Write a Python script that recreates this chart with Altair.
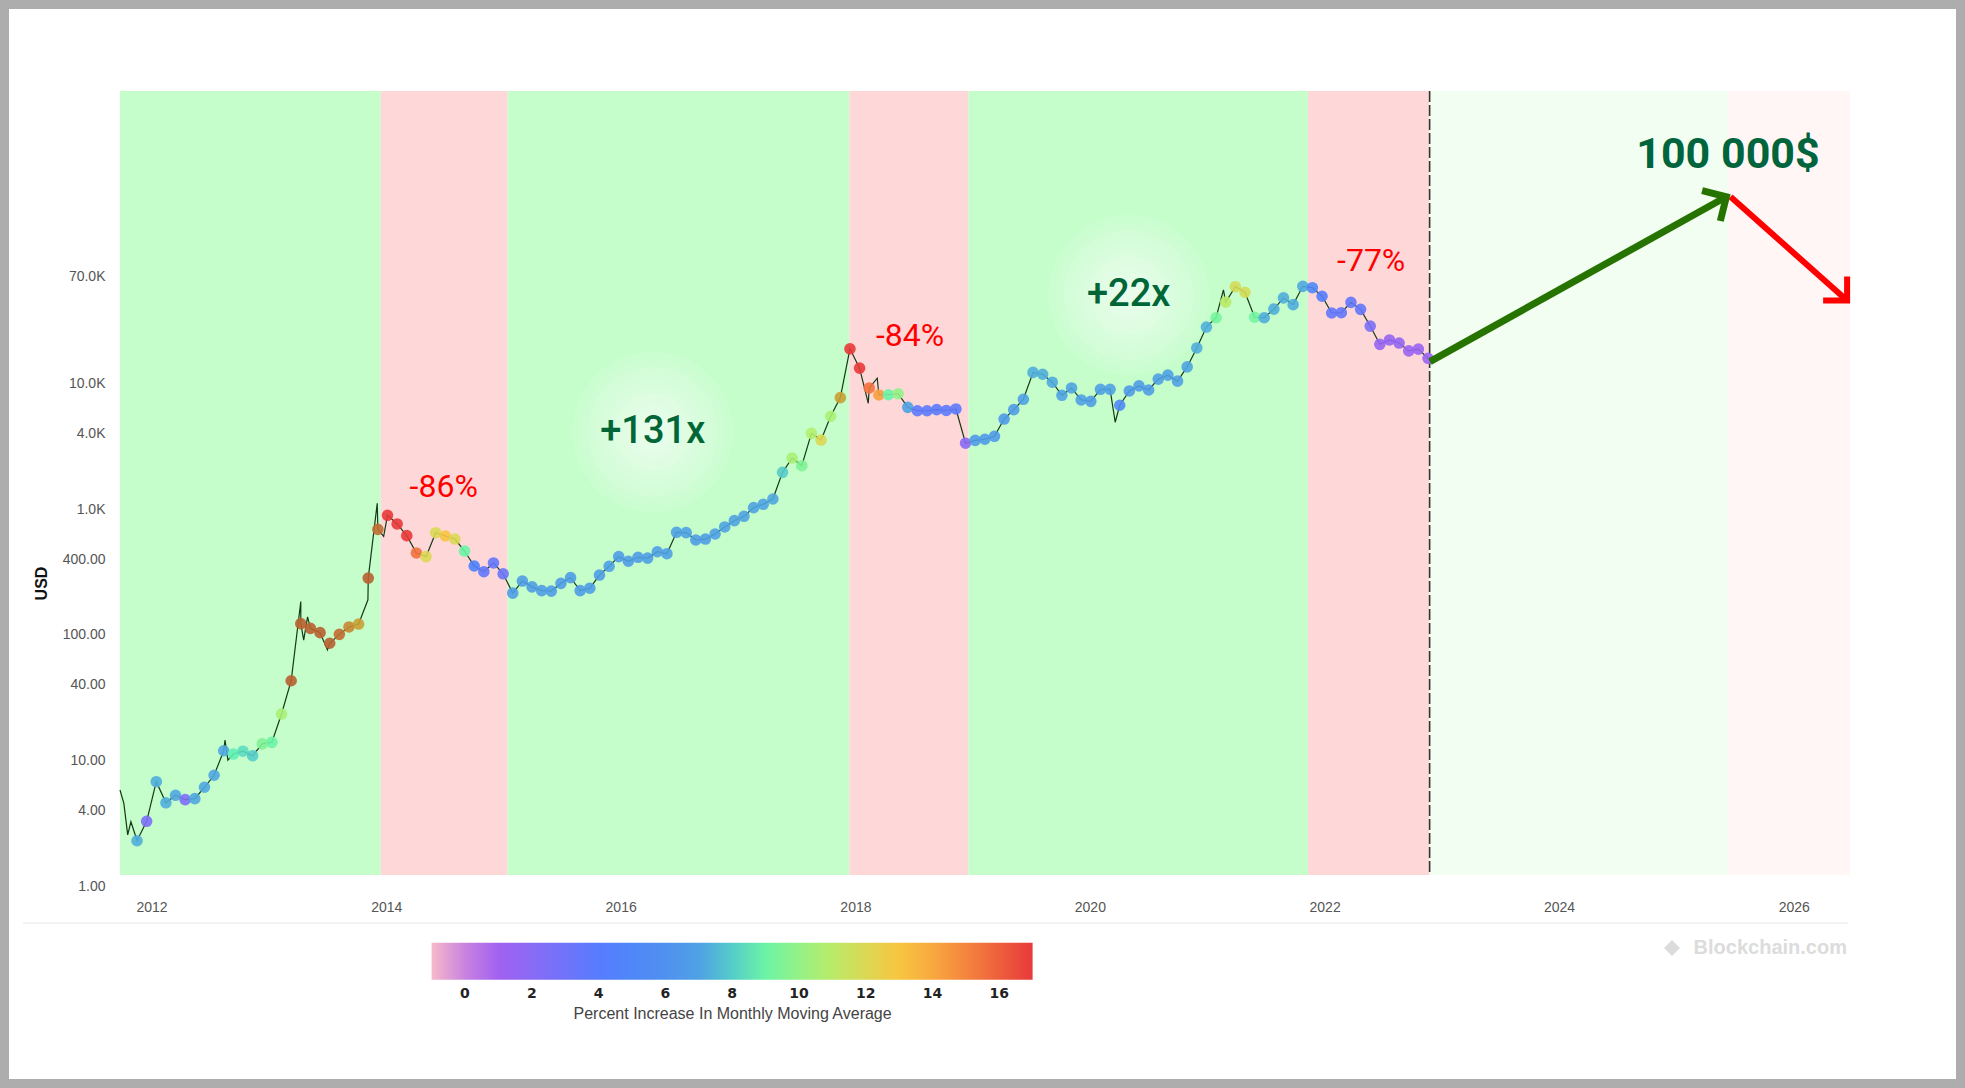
import altair as alt
import pandas as pd

# ---------------- data ----------------
first_marker_date = "2011-11-17"
marker_step_days = 30

price_usd = [
    2.31, 3.30, 6.81, 4.63, 5.31, 4.90, 4.99, 6.15, 7.66, 12.0,
    11.3, 11.9, 10.96, 13.6, 14.0, 23.5, 43.2, 122.8, 112.7, 104.2,
    85.8, 101, 115.6, 122, 283, 690, 893, 762, 615, 448,
    419, 649, 611, 578, 464, 353, 318, 373, 306, 215,
    268, 241, 225, 223, 257, 285, 225, 235, 299, 351,
    419, 385, 414, 408, 458, 442, 654, 650, 568, 578,
    634, 721, 809, 877, 1027, 1092, 1203, 1960, 2547, 2213,
    4000, 3540, 5470, 7690, 18800, 13200, 9180, 8080, 8110, 8260,
    6440, 6050, 6050, 6170, 6080, 6250, 3340, 3520, 3590, 3790,
    5200, 6170, 7460, 12200, 11800, 10200, 8030, 9180, 7370, 7190,
    8960, 8960, 6690, 8690, 9530, 8850, 10800, 11600, 10400, 13500,
    19100, 28000, 33200, 44200, 58600, 52900, 33500, 33200, 38900, 47700,
    42200, 59000, 57500, 49200, 36200, 36400, 44000, 38700, 28500, 20400,
    22100, 20900, 18100, 18700, 15800,
]

pct_increase = [
    7.4, 2.5, 7.4, 7.4, 7.2, 2.5, 7.2, 7.2, 7.2, 7.2,
    8.6, 8.3, 8.0, 9.5, 9.0, 10.5, 22, 22, 22, 22,
    22, 21, 19.5, 18.5, 22, 21, 17, 17, 17, 15.5,
    12, 12, 13, 12, 9, 4.5, 3.5, 3.5, 3.2, 6.9,
    6.9, 6.9, 6.9, 6.9, 6.9, 6.9, 6.9, 6.9, 6.9, 7.0,
    6.9, 6.9, 6.9, 6.9, 7.0, 7.0, 7.0, 7.0, 6.9, 6.9,
    7.0, 7.1, 7.1, 7.1, 7.1, 7.1, 7.2, 8, 10.5, 9.5,
    10.7, 12, 10.5, 18.5, 17, 17, 15.5, 14.3, 9, 10,
    7, 3.8, 3.8, 3.8, 3.8, 3.8, 2, 6.8, 6.8, 6.8,
    6.8, 6.9, 7.0, 7.4, 7.4, 7.3, 7.1, 7.1, 7.0, 6.9,
    7.0, 7.0, 5.5, 6.8, 6.9, 6.9, 7.0, 7.0, 7.0, 7.1,
    7.4, 7.5, 9.3, 11, 11.8, 11.8, 9.2, 7.4, 7.4, 7.4,
    7.4, 7.3, 5, 4, 3.5, 3.5, 3.5, 3.5, 2.5, 1.5,
    1.5, 1.5, 1.3, 1.3, 1.3,
]

# extra daily extremes of the thin price line
spike_dates = ["2011-09-25", "2011-10-07", "2011-10-19", "2011-10-29", "2011-11-10",
               "2012-08-17", "2012-08-26", "2013-04-10", "2013-04-19", "2013-05-01",
               "2013-07-02", "2013-11-05", "2013-12-04", "2013-12-24", "2018-02-10",
               "2018-03-10", "2020-03-20", "2021-02-20"]
spike_values = [5.85, 4.58, 2.57, 3.27, 2.64,
                14.6, 10.1, 184, 90.9, 139,
                76, 190, 1112, 606, 6930,
                10970, 4900, 55200]

band_starts = ["2011-09-25", "2013-12-15", "2015-01-14", "2017-12-13",
               "2018-12-19", "2021-11-10", "2022-11-24", "2025-06-10"]
band_ends = ["2013-12-15", "2015-01-14", "2017-12-13", "2018-12-19",
             "2021-11-10", "2022-11-24", "2025-06-10", "2026-06-25"]
band_phase = ["bull", "bear", "bull", "bear", "bull", "bear", "future bull", "future bear"]

cutoff_date = ["2022-11-24"]

drop_labels = ["-86%", "-84%", "-77%"]
drop_dates = ["2014-06-29", "2018-06-20", "2022-05-26"]
drop_values = [1499, 23800, 93800]

gain_labels = ["+131x", "+22x"]
gain_dates = ["2016-04-10", "2020-05-01"]
gain_values = [4100, 50400]

target_label = ["100 000$"]
target_date = ["2025-06-10"]
target_value = [653000]

arrow_names = ["up", "down"]
arrow_start_dates = ["2022-11-25", "2025-06-18"]
arrow_start_values = [14860, 304000]
arrow_end_dates = ["2025-06-05", "2026-06-16"]
arrow_end_values = [304000, 45500]

y_ticks = [1, 4, 10, 40, 100, 400, 1000, 4000, 10000, 70000]
x_tick_years = [2012, 2014, 2016, 2018, 2020, 2022, 2024, 2026]
legend_ticks = [0, 2, 4, 6, 8, 10, 12, 14, 16]

x_domain = ["2011-09-25", "2026-06-25"]
y_domain = [1, 2106000]

# ---------------- tables ----------------
marker_dates = pd.date_range(first_marker_date, periods=len(price_usd),
                             freq=f"{marker_step_days}D").strftime("%Y-%m-%d").tolist()
markers = pd.DataFrame({"date": marker_dates, "value": price_usd, "pct": pct_increase})
line_df = pd.concat([
    markers[["date", "value"]],
    pd.DataFrame({"date": spike_dates, "value": spike_values}),
]).sort_values("date").reset_index(drop=True)
bands = pd.DataFrame({"start": band_starts, "end": band_ends, "phase": band_phase})
cutoff = pd.DataFrame({"date": cutoff_date})
drops = pd.DataFrame({"date": drop_dates, "value": drop_values, "label": drop_labels})
gains = pd.DataFrame({"date": gain_dates, "value": gain_values, "label": gain_labels})
target = pd.DataFrame({"date": target_date, "value": target_value, "label": target_label})
arrows = pd.DataFrame({"name": arrow_names, "d0": arrow_start_dates, "v0": arrow_start_values,
                       "d1": arrow_end_dates, "v1": arrow_end_values})
one = pd.DataFrame({"k": [0]})


def ms(d):
    return int(pd.Timestamp(d).value // 10**6)


X_SCALE = alt.Scale(type="time", domain=[ms(x_domain[0]), ms(x_domain[1])])
Y_SCALE = alt.Scale(type="log", domain=y_domain, nice=False)
X_AXIS = alt.Axis(values=[ms(f"{y}-01-01") for y in x_tick_years],
                  labelExpr="utcFormat(datum.value, '%Y')", grid=False, domain=False,
                  ticks=False, labelPadding=14, labelFontSize=14, labelColor="#555",
                  labelFont="Liberation Sans", labelFlush=False, title=None, zindex=2)
Y_AXIS = alt.Axis(values=y_ticks,
                  labelExpr="datum.value >= 1000 ? format(datum.value / 1000, '.1f') + 'K' : format(datum.value, '.2f')",
                  grid=False, domain=False, ticks=False, labelPadding=15, labelFontSize=14,
                  labelColor="#555", labelFont="Liberation Sans", title="USD",
                  titleFont="Liberation Sans", titleFontSize=16, titleFontWeight="bold",
                  titleColor="#111", titleAngle=270, titleX=-79, titleY=492,
                  titleAlign="center", titleBaseline="middle", zindex=2)


def X(field):
    return alt.X(f"{field}:T", scale=X_SCALE, axis=X_AXIS)


def Y(field):
    return alt.Y(f"{field}:Q", scale=Y_SCALE, axis=Y_AXIS)


legend_domain = [-1, 0.7, 4.3, 6.8, 7.6, 8.7, 10.7, 12.9, 14.3, 17]
legend_range = ["#f7b9c9", "#a95ef0", "#4f7fff", "#4f9ae8", "#50b4d8", "#5ff5b0",
                "#b0f070", "#f8c840", "#f8a040", "#e8393a"]
POINT_SCALE = alt.Scale(domain=legend_domain + [18.5, 20, 22],
                        range=legend_range + ["#c8a035", "#c87a30", "#b8602f"],
                        interpolate="rgb")
LEGEND_SCALE = alt.Scale(domain=legend_domain, range=legend_range, interpolate="rgb")

# ---------------- layers ----------------
frame = alt.Chart(one).mark_rect(color="white").encode(
    x=alt.value(-111), x2=alt.value(1836), y=alt.value(-82), y2=alt.value(988))

band_layer = alt.Chart(bands).mark_rect().encode(
    x=X("start"), x2="end:T", y=alt.value(0), y2=alt.value(784),
    fill=alt.Fill("phase:N", legend=None,
                  scale=alt.Scale(domain=["bull", "bear", "future bull", "future bear"],
                                  range=["#c5fdcb", "#fed8d8", "#f2fef2", "#fff6f5"])))

glows = [
    alt.Chart(gains).mark_circle(color="white", opacity=0.085, size=s).encode(x=X("date"), y=Y("value"))
    for s in [26000, 21000, 17000, 13500, 10500, 8000, 6000, 4300, 3000, 2000, 1200, 600]
]

sep_line = alt.Chart(one).mark_rule(color="#e6e6e6", strokeWidth=1).encode(
    x=alt.value(-97), x2=alt.value(1728), y=alt.value(832))

cut = alt.Chart(cutoff).mark_rule(color="#333", strokeWidth=1.6, strokeDash=[11, 3]).encode(
    x=X("date"), y=alt.value(0), y2=alt.value(784))

price_line = alt.Chart(line_df).mark_line(color="#163816", strokeWidth=1.2).encode(
    x=X("date"), y=Y("value"))

points = alt.Chart(markers).mark_circle(size=135, opacity=0.9).encode(
    x=X("date"), y=Y("value"),
    color=alt.Color("pct:Q", scale=POINT_SCALE, legend=None))

legend_carrier = alt.Chart(markers).mark_circle(size=0, opacity=1).encode(
    x=X("date"), y=Y("value"),
    color=alt.Color("pct:Q", scale=LEGEND_SCALE, legend=alt.Legend(
        orient="none", legendX=311.6, legendY=851.7, direction="horizontal",
        gradientLength=601, gradientThickness=37, gradientStrokeWidth=0,
        values=legend_ticks, padding=0,
        labelFont="DejaVu Sans", labelFontSize=14, labelFontWeight="bold",
        labelColor="#222", labelOffset=7,
        title="Percent Increase In Monthly Moving Average", titleOrient="bottom",
        titleAnchor="middle", titleFont="Liberation Sans", titleFontSize=16,
        titleFontWeight="normal", titleColor="#444", titlePadding=5, titleLimit=1000)))

up_line = alt.Chart(arrows).transform_filter("datum.name == 'up'").mark_rule(
    color="#267300", strokeWidth=7).encode(x=X("d0"), x2="d1:T", y=Y("v0"), y2="v1:Q")
down_line = alt.Chart(arrows).transform_filter("datum.name == 'down'").mark_rule(
    color="#ff0000", strokeWidth=6).encode(x=X("d0"), x2="d1:T", y=Y("v0"), y2="v1:Q")
chevron = "M-1,1L0,0L1,1"
up_head = alt.Chart(arrows).transform_filter("datum.name == 'up'").mark_point(
    shape=chevron, filled=False, size=1250, strokeWidth=7, angle=59, color="#267300",
    opacity=1, strokeJoin="miter").encode(x=X("d1"), y=Y("v1"))
down_head = alt.Chart(arrows).transform_filter("datum.name == 'down'").mark_point(
    shape=chevron, filled=False, size=1150, strokeWidth=6, angle=135, color="#ff0000",
    opacity=1, strokeJoin="miter").encode(x=X("d1"), y=Y("v1"))

drop_text = alt.Chart(drops).mark_text(font="Roboto", fontSize=32, color="#ff0000",
                                       align="center", baseline="middle").encode(
    x=X("date"), y=Y("value"), text="label:N")
gain_text = alt.Chart(gains).mark_text(font="Roboto", fontSize=38, fontWeight=500,
                                       color="#006638", align="center", baseline="middle").encode(
    x=X("date"), y=Y("value"), text="label:N")
target_text = alt.Chart(target).mark_text(font="Roboto", fontSize=43, fontWeight="bold",
                                          color="#00643c", align="center", baseline="middle").encode(
    x=X("date"), y=Y("value"), text="label:N")

wm_text = alt.Chart(one).mark_text(font="Liberation Sans", fontSize=20, fontWeight="bold",
                                   color="#dcdcdc", align="right", baseline="middle").encode(
    x=alt.value(1727), y=alt.value(857), text=alt.value("Blockchain.com"))
wm_icon = alt.Chart(one).mark_point(shape="diamond", filled=True, size=260, color="#dcdcdc",
                                    opacity=1).encode(x=alt.value(1552), y=alt.value(857))

chart = alt.layer(
    frame, band_layer, *glows, sep_line, cut, price_line, points,
    up_line, down_line, up_head, down_head,
    drop_text, gain_text, target_text, wm_icon, wm_text, legend_carrier,
).resolve_scale(color="independent").properties(
    width=1730, height=795.5,
    autosize=alt.AutoSizeParams(type="none"),
    padding={"left": 120, "top": 91, "right": 115, "bottom": 201.5},
    background="#adadad",
).configure_view(stroke=None)

chart.save("out.html", embed_options={"renderer": "svg", "actions": False})
